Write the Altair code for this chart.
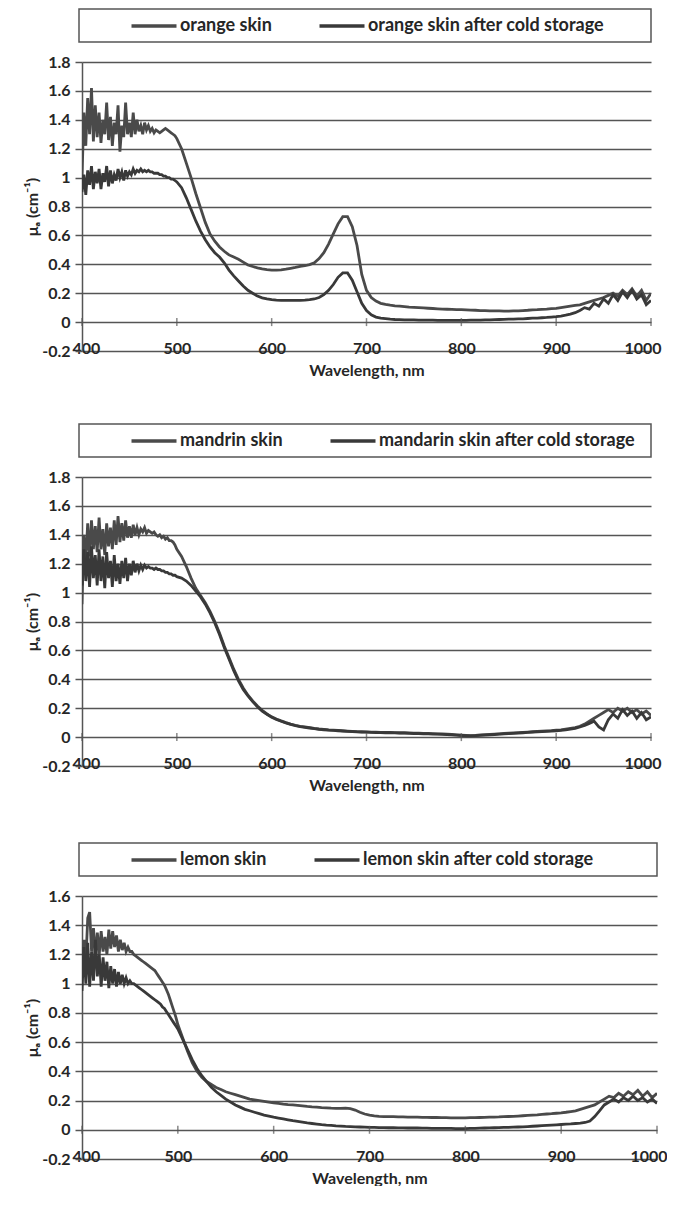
import altair as alt
import pandas as pd

# ---------------- data ----------------
WL_HEAD = list(range(400, 500, 2))      # 50 samples
WL_TAIL = list(range(500, 1001, 5))     # 101 samples
WAVELENGTH = WL_HEAD + WL_TAIL

X_TICKS = [400, 500, 600, 700, 800, 900, 1000]
Y_TICKS_18 = [-0.2, 0, 0.2, 0.4, 0.6, 0.8, 1.0, 1.2, 1.4, 1.6, 1.8]
Y_TICKS_16 = [-0.2, 0, 0.2, 0.4, 0.6, 0.8, 1.0, 1.2, 1.4, 1.6]
X_AXIS_CROSS = 0

ORANGE_NAMES = ["orange skin", "orange skin after cold storage"]
MANDARIN_NAMES = ["mandrin skin", "mandarin skin after cold storage"]
LEMON_NAMES = ["lemon skin", "lemon skin after cold storage"]

ORANGE_A = [
    1.00, 1.45, 1.22, 1.55, 1.30, 1.62, 1.25, 1.50, 1.28, 1.45,
    1.24, 1.40, 1.30, 1.52, 1.26, 1.42, 1.22, 1.38, 1.30, 1.50,
    1.18, 1.36, 1.28, 1.52, 1.30, 1.38, 1.28, 1.45, 1.30, 1.40,
    1.32, 1.36, 1.30, 1.38, 1.33, 1.36, 1.32, 1.34, 1.31, 1.33,
    1.32, 1.31, 1.32, 1.33, 1.34, 1.33, 1.32, 1.31, 1.30, 1.29,
    # 500..1000 step 5
    1.27, 1.20, 1.10, 1.00, 0.89, 0.79, 0.69, 0.61, 0.56, 0.52,
    0.49, 0.465, 0.45, 0.435, 0.415, 0.395, 0.385, 0.375, 0.368, 0.363,
    0.36, 0.36, 0.362, 0.366, 0.372, 0.378, 0.385, 0.39, 0.398, 0.41,
    0.44, 0.48, 0.54, 0.61, 0.68, 0.73, 0.73, 0.66, 0.53, 0.33,
    0.22, 0.17, 0.145, 0.13, 0.122, 0.117, 0.113, 0.11, 0.107, 0.104,
    0.102, 0.1, 0.098, 0.096, 0.094, 0.092, 0.09, 0.089, 0.088, 0.087,
    0.086, 0.085, 0.083, 0.082, 0.08, 0.08, 0.078, 0.078, 0.077, 0.076,
    0.076, 0.077, 0.078, 0.08, 0.082, 0.085, 0.086, 0.088, 0.09, 0.093,
    0.095, 0.1, 0.105, 0.11, 0.115, 0.12, 0.13, 0.14, 0.15, 0.16,
    0.17, 0.185, 0.2, 0.18, 0.22, 0.19, 0.23, 0.18, 0.22, 0.15,
    0.2,
]
ORANGE_B = [
    0.90, 1.02, 0.88, 1.05, 0.95, 1.08, 0.92, 1.04, 0.96, 1.06,
    0.92, 1.03, 0.97, 1.08, 0.94, 1.05, 0.96, 1.02, 0.98, 1.06,
    1.00, 1.04, 0.98, 1.05, 1.01, 1.04, 1.02, 1.06, 1.03, 1.05,
    1.04, 1.06, 1.04, 1.05, 1.04, 1.05, 1.04, 1.04, 1.03, 1.03,
    1.03, 1.02, 1.02, 1.01, 1.01, 1.00, 1.00, 0.99, 0.99, 0.98,
    0.97, 0.93, 0.86, 0.78, 0.70, 0.63, 0.57, 0.52, 0.48, 0.45,
    0.41, 0.36, 0.32, 0.285, 0.25, 0.22, 0.20, 0.18, 0.168, 0.16,
    0.155, 0.152, 0.15, 0.15, 0.15, 0.15, 0.151, 0.152, 0.155, 0.16,
    0.17, 0.19, 0.22, 0.26, 0.31, 0.34, 0.34, 0.29, 0.21, 0.13,
    0.08, 0.05, 0.035, 0.028, 0.024, 0.02, 0.018, 0.017, 0.016, 0.015,
    0.015, 0.014, 0.014, 0.013, 0.013, 0.012, 0.012, 0.012, 0.012, 0.012,
    0.012, 0.012, 0.013, 0.013, 0.014, 0.015, 0.016, 0.017, 0.018, 0.019,
    0.02, 0.021, 0.022, 0.023, 0.025, 0.027, 0.028, 0.03, 0.032, 0.035,
    0.038, 0.042, 0.048, 0.055, 0.065, 0.08, 0.10, 0.09, 0.13, 0.11,
    0.16, 0.13, 0.19, 0.15, 0.21, 0.17, 0.22, 0.16, 0.19, 0.12,
    0.15,
]
MANDARIN_A = [
    0.92, 1.40, 1.22, 1.48, 1.25, 1.50, 1.30, 1.46, 1.28, 1.52,
    1.30, 1.44, 1.26, 1.48, 1.32, 1.45, 1.30, 1.50, 1.33, 1.53,
    1.35, 1.48, 1.36, 1.50, 1.38, 1.46, 1.38, 1.47, 1.40, 1.45,
    1.40, 1.44, 1.42, 1.45, 1.41, 1.43, 1.42, 1.41, 1.42, 1.40,
    1.39, 1.40, 1.38, 1.39, 1.37, 1.38, 1.36, 1.36, 1.35, 1.33,
    1.30, 1.25, 1.18, 1.10, 1.03, 0.98, 0.93, 0.87, 0.80, 0.72,
    0.63, 0.55, 0.47, 0.40, 0.34, 0.29, 0.25, 0.215, 0.185, 0.16,
    0.14, 0.125, 0.112, 0.10, 0.09, 0.082, 0.075, 0.07, 0.065, 0.06,
    0.056, 0.053, 0.05, 0.048, 0.046, 0.044, 0.042, 0.04, 0.038, 0.037,
    0.036, 0.035, 0.034, 0.033, 0.033, 0.032, 0.031, 0.03, 0.03, 0.029,
    0.028, 0.027, 0.026, 0.025, 0.024, 0.023, 0.022, 0.02, 0.018, 0.016,
    0.014, 0.012, 0.01, 0.012, 0.015, 0.017, 0.019, 0.021, 0.023, 0.025,
    0.027, 0.029, 0.031, 0.033, 0.035, 0.037, 0.039, 0.041, 0.043, 0.045,
    0.048, 0.05, 0.055, 0.06, 0.065, 0.075, 0.09, 0.11, 0.13, 0.15,
    0.17, 0.19, 0.17, 0.20, 0.18, 0.20, 0.17, 0.19, 0.16, 0.18,
    0.15,
]
MANDARIN_B = [
    1.05, 1.30, 1.08, 1.28, 1.04, 1.32, 1.10, 1.26, 1.05, 1.30,
    1.08, 1.25, 1.03, 1.28, 1.10, 1.22, 1.04, 1.26, 1.08, 1.20,
    1.06, 1.22, 1.10, 1.24, 1.08, 1.20, 1.12, 1.22, 1.14, 1.20,
    1.15, 1.19, 1.16, 1.19, 1.17, 1.18, 1.17, 1.17, 1.16, 1.17,
    1.16, 1.16, 1.15, 1.15, 1.14, 1.14, 1.13, 1.13, 1.12, 1.12,
    1.11, 1.10, 1.08, 1.05, 1.01, 0.97, 0.92, 0.86, 0.79, 0.71,
    0.62, 0.54, 0.46, 0.39, 0.33, 0.285, 0.245, 0.21, 0.18, 0.158,
    0.138, 0.122, 0.11, 0.098, 0.088, 0.08, 0.073, 0.068, 0.063, 0.058,
    0.054, 0.051, 0.048, 0.046, 0.044, 0.042, 0.04, 0.038, 0.036, 0.035,
    0.034, 0.033, 0.032, 0.031, 0.03, 0.03, 0.029, 0.028, 0.027, 0.026,
    0.025, 0.024, 0.023, 0.022, 0.021, 0.02, 0.019, 0.017, 0.015, 0.013,
    0.011, 0.009, 0.008, 0.01, 0.012, 0.014, 0.016, 0.018, 0.02, 0.022,
    0.024, 0.026, 0.028, 0.03, 0.032, 0.034, 0.036, 0.038, 0.04, 0.042,
    0.044, 0.047, 0.05, 0.055, 0.06, 0.07, 0.08, 0.095, 0.11, 0.07,
    0.05, 0.12, 0.16, 0.13, 0.19, 0.15, 0.18, 0.13, 0.17, 0.12,
    0.14,
]
LEMON_A = [
    1.12, 1.30, 1.15, 1.45, 1.49, 1.22, 1.38, 1.18, 1.35, 1.20,
    1.36, 1.22, 1.32, 1.20, 1.37, 1.24, 1.36, 1.25, 1.33, 1.22,
    1.30, 1.23, 1.28, 1.22, 1.25, 1.22, 1.22, 1.20, 1.19, 1.18,
    1.17, 1.16, 1.15, 1.14, 1.13, 1.12, 1.11, 1.10, 1.09, 1.07,
    1.05, 1.03, 1.01, 0.99, 0.96, 0.93, 0.89, 0.85, 0.81, 0.77,
    0.72, 0.63, 0.54, 0.46, 0.40, 0.36, 0.33, 0.31, 0.29, 0.275,
    0.26, 0.25, 0.24, 0.23, 0.22, 0.21, 0.205, 0.20, 0.195, 0.19,
    0.185, 0.18, 0.175, 0.172, 0.17, 0.167, 0.164, 0.16, 0.157, 0.155,
    0.152, 0.15, 0.148, 0.147, 0.147, 0.148, 0.145, 0.135, 0.12, 0.108,
    0.10, 0.095, 0.092, 0.09, 0.09, 0.09, 0.088, 0.088, 0.087, 0.087,
    0.086, 0.085, 0.085, 0.084, 0.084, 0.083, 0.083, 0.082, 0.082, 0.082,
    0.082, 0.083, 0.083, 0.084, 0.085, 0.086, 0.087, 0.088, 0.09, 0.091,
    0.092, 0.094, 0.096, 0.098, 0.10, 0.102, 0.105, 0.108, 0.11, 0.113,
    0.116, 0.12, 0.125, 0.13, 0.14, 0.15, 0.16, 0.17, 0.19, 0.21,
    0.23, 0.22, 0.25, 0.23, 0.26, 0.24, 0.27, 0.23, 0.26, 0.22,
    0.25,
]
LEMON_B = [
    0.95, 1.25, 1.00, 1.28, 0.98, 1.22, 1.02, 1.30, 1.05, 1.20,
    0.98, 1.18, 1.02, 1.15, 0.97, 1.12, 1.00, 1.10, 0.98, 1.08,
    1.00, 1.06, 1.00, 1.04, 1.00, 1.02, 1.00, 1.00, 0.99, 0.98,
    0.97, 0.96, 0.95, 0.94, 0.93, 0.92, 0.91, 0.90, 0.89, 0.88,
    0.87, 0.86, 0.84, 0.83, 0.81, 0.79, 0.77, 0.75, 0.73, 0.71,
    0.69, 0.62, 0.55, 0.48, 0.42, 0.37, 0.33, 0.29, 0.26, 0.235,
    0.21, 0.19, 0.17, 0.155, 0.14, 0.13, 0.12, 0.11, 0.10, 0.093,
    0.086, 0.08, 0.074, 0.068, 0.062, 0.057, 0.052, 0.047, 0.043, 0.039,
    0.035, 0.032, 0.03, 0.027, 0.025, 0.023, 0.022, 0.02, 0.019, 0.018,
    0.017, 0.016, 0.015, 0.015, 0.014, 0.014, 0.013, 0.013, 0.012, 0.012,
    0.012, 0.011, 0.011, 0.01, 0.01, 0.01, 0.009, 0.009, 0.008, 0.008,
    0.008, 0.009, 0.01, 0.011, 0.012, 0.013, 0.014, 0.015, 0.016, 0.017,
    0.018, 0.019, 0.02, 0.022, 0.024, 0.026, 0.028, 0.03, 0.032, 0.034,
    0.036, 0.038, 0.04, 0.043, 0.046, 0.05, 0.06, 0.09, 0.13, 0.17,
    0.19, 0.21, 0.19, 0.22, 0.20, 0.23, 0.20, 0.22, 0.19, 0.21,
    0.18,
]

# ---------------- style ----------------
FONT = "Lato"
TEXT = "#262626"
GRID = "#555555"
LINE_COLORS = ["#4a4a4a", "#393939"]


def panel(names, s1, s2, ymax, yticks, w, h):
    n = len(WAVELENGTH)
    assert len(s1) == n and len(s2) == n, (len(s1), len(s2), n)
    df = pd.DataFrame({
        "Wavelength": WAVELENGTH + WAVELENGTH,
        "mu": s1 + s2,
        "series": [names[0]] * n + [names[1]] * n,
    })
    xs = alt.Scale(domain=[400, 1000], nice=False, zero=False)
    ys = alt.Scale(domain=[-0.2, ymax], nice=False, zero=False)

    x_axis = alt.Axis(
        values=X_TICKS, format="d", grid=False, domain=False, ticks=False,
        labelPadding=-11, labelOverlap=False, labelFlush=True,
        labelFlushOffset=10,
        title="Wavelength, nm", titlePadding=6,
    )
    y_axis = alt.Axis(
        values=yticks, grid=True, gridColor=GRID, gridWidth=1.5,
        domain=True, domainColor=GRID, domainWidth=1.5,
        ticks=True, tickSize=7, tickColor=GRID, tickWidth=1.5,
        labelExpr="toString(round(datum.value*10)/10)", labelPadding=5,
        labelOverlap=False,
        title="μₐ (cm⁻¹)", titlePadding=1,
    )
    legend = alt.Legend(
        orient="none", legendX=55, legendY=-53, direction="horizontal",
        title=None, symbolType="M-1.5,0H1.5", symbolSize=900,
        symbolStrokeWidth=3.5, symbolFillColor="transparent",
        columnPadding=40, labelFontSize=18,
        labelOffset=9, padding=0, labelLimit=400,
    )
    lines = alt.Chart(df).mark_line(strokeWidth=2.8, clip=True).encode(
        x=alt.X("Wavelength:Q", scale=xs, axis=x_axis),
        y=alt.Y("mu:Q", scale=ys, axis=y_axis),
        color=alt.Color("series:N",
                        scale=alt.Scale(domain=names, range=LINE_COLORS),
                        legend=legend),
    )
    tick_df = pd.DataFrame({"Wavelength": X_TICKS,
                            "mu": [X_AXIS_CROSS] * len(X_TICKS)})
    ticks = alt.Chart(tick_df).mark_tick(
        orient="vertical", size=8, thickness=1.5, color=GRID
    ).encode(x=alt.X("Wavelength:Q", scale=xs, axis=x_axis),
             y=alt.Y("mu:Q", scale=ys, axis=y_axis))
    frame = alt.Chart(pd.DataFrame({"box": [0]})).mark_rect(
        fillOpacity=0, stroke=GRID, strokeWidth=1.5
    ).encode(x=alt.value(-3), x2=alt.value(w), y=alt.value(-53),
             y2=alt.value(-20))
    return alt.layer(frame, lines, ticks).properties(width=w, height=h)


p1 = panel(ORANGE_NAMES, ORANGE_A, ORANGE_B, 1.8, Y_TICKS_18, 569, 289)
p2 = panel(MANDARIN_NAMES, MANDARIN_A, MANDARIN_B, 1.8, Y_TICKS_18, 569, 289)
p3 = panel(LEMON_NAMES, LEMON_A, LEMON_B, 1.6, Y_TICKS_16, 575, 263)

top_pair = alt.vconcat(p1, p2, spacing=45).resolve_scale(color="independent")
chart = alt.vconcat(top_pair, p3, spacing=49).resolve_scale(
    color="independent"
).properties(
    padding={"left": 16, "top": 0, "right": 0, "bottom": 0},
    background="white",
).configure_view(stroke=None).configure_axis(
    labelFont=FONT, labelFontSize=16, labelFontWeight="bold",
    labelColor=TEXT, titleFont=FONT, titleFontSize=16,
    titleFontWeight="bold", titleColor=TEXT,
).configure_legend(
    labelFont=FONT, labelFontWeight="bold", labelColor=TEXT,
)

chart.save("out.html", embed_options={"renderer": "svg", "actions": False})
